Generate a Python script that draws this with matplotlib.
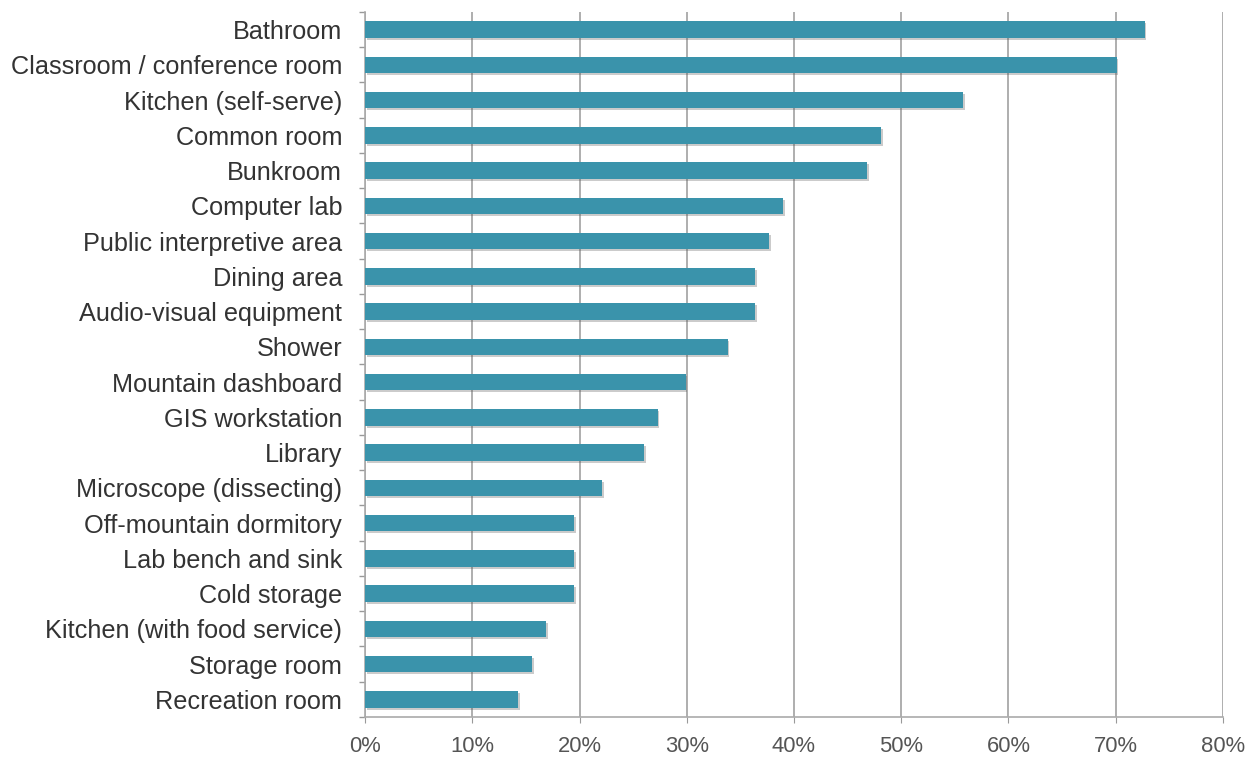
import matplotlib
matplotlib.use("Agg")
import matplotlib.pyplot as plt
import matplotlib.patheffects as pe
from matplotlib.ticker import FixedLocator, FuncFormatter
import numpy as np

categories = [
    "Bathroom", "Classroom / conference room", "Kitchen (self-serve)",
    "Common room", "Bunkroom", "Computer lab", "Public interpretive area",
    "Dining area", "Audio-visual equipment", "Shower", "Mountain dashboard",
    "GIS workstation", "Library", "Microscope (dissecting)",
    "Off-mountain dormitory", "Lab bench and sink", "Cold storage",
    "Kitchen (with food service)", "Storage room", "Recreation room",
]
values = [72.7, 70.1, 55.8, 48.1, 46.8, 39.0, 37.7, 36.4, 36.4, 33.8,
          29.9, 27.3, 26.0, 22.1, 19.5, 19.5, 19.5, 16.9, 15.6, 14.3]
xticks = [0, 10, 20, 30, 40, 50, 60, 70, 80]

plt.rcParams["font.family"] = ["Liberation Sans", "DejaVu Sans"]

fig = plt.figure(figsize=(12.57, 7.6), dpi=100)
ax = fig.add_axes([365 / 1257, 43 / 760, (1223 - 365) / 1257, (760 - 12 - 43) / 760])

y = np.arange(len(categories))
bars = ax.barh(y, values, height=0.47, color="#3a93ab", zorder=3)
for b in bars:
    b.set_path_effects([pe.SimplePatchShadow(offset=(1.2, -1.5), shadow_rgbFace="#555555", alpha=0.3),
                        pe.Normal()])

ax.set_ylim(len(categories) - 0.5, -0.5)
ax.set_xlim(0, 80)

ax.set_yticks(y)
ax.set_yticklabels(categories, fontsize=18.2, color="#333333")
ax.yaxis.set_minor_locator(FixedLocator(np.arange(-0.5, len(categories), 1.0)))
ax.tick_params(axis="y", which="major", length=0, pad=16.5)
ax.tick_params(axis="y", which="minor", length=4, color="#999999", width=1)

ax.xaxis.set_major_locator(FixedLocator(xticks))
ax.xaxis.set_major_formatter(FuncFormatter(lambda v, p: f"{int(v)}%"))
ax.tick_params(axis="x", which="major", length=4, color="#999999", labelsize=15.8,
               labelcolor="#555555", pad=10)

ax.grid(axis="x", color="#999999", linewidth=1.1, zorder=0)
ax.set_axisbelow(True)

for s in ["top", "right"]:
    ax.spines[s].set_visible(False)
for s in ["left", "bottom"]:
    ax.spines[s].set_color("#aaaaaa")
    ax.spines[s].set_linewidth(1.2)

fig.savefig("out.png", dpi=100, facecolor="white")
